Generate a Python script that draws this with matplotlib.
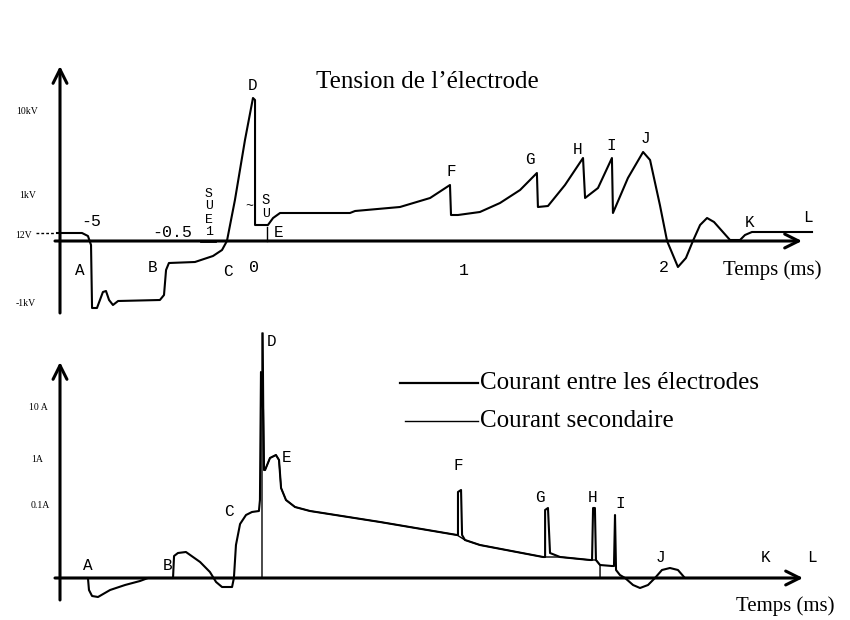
import matplotlib
matplotlib.use("Agg")
import matplotlib.pyplot as plt
from matplotlib.lines import Line2D

# ---------------- data (schematic units: t in ms-position, v = relative level) -------------
# Top panel : electrode voltage
volt_t = [-0.961, -0.839, -0.810, -0.795, -0.790, -0.766, -0.737, -0.722, -0.707, -0.688,
          -0.663, -0.459, -0.439, -0.429, -0.415, -0.288, -0.200, -0.156, -0.132, -0.093,
          -0.044, -0.005, 0.005, 0.005, 0.068, 0.093, 0.127, 0.468, 0.493, 0.712,
          0.859, 0.956, 0.961, 0.995, 1.102, 1.200, 1.298, 1.380, 1.385, 1.434,
          1.517, 1.605, 1.615, 1.678, 1.746, 1.751, 1.824, 1.898, 1.932, 1.980,
          2.015, 2.068, 2.107, 2.141, 2.176, 2.210, 2.244, 2.322, 2.371, 2.395,
          2.429, 2.722]
volt_v = [0.08, 0.08, 0.05, -0.04, -0.67, -0.67, -0.51, -0.50, -0.59, -0.64,
          -0.60, -0.59, -0.54, -0.29, -0.22, -0.21, -0.15, -0.09, 0.00, 0.41,
          1.01, 1.43, 1.41, 0.16, 0.16, 0.23, 0.28, 0.28, 0.30, 0.34,
          0.43, 0.56, 0.26, 0.26, 0.29, 0.38, 0.51, 0.68, 0.34, 0.35,
          0.56, 0.83, 0.43, 0.53, 0.83, 0.28, 0.63, 0.89, 0.81, 0.36,
          0.00, -0.26, -0.17, 0.00, 0.16, 0.23, 0.19, 0.01, 0.01, 0.06,
          0.09, 0.09]

# Bottom panel : current between electrodes
cur_t = [-0.961, -0.810, -0.805, -0.790, -0.761, -0.702, -0.629, -0.556, -0.517, -0.395,
         -0.390, -0.371, -0.332, -0.263, -0.215, -0.185, -0.156, -0.107, -0.098, -0.088,
         -0.068, -0.039, -0.010, 0.024, 0.029, 0.034, 0.044, 0.049, 0.054, 0.078,
         0.107, 0.122, 0.132, 0.156, 0.200, 0.273, 0.615, 0.990, 0.995, 0.995,
         1.010, 1.015, 1.029, 1.102, 1.410, 1.420, 1.420, 1.434, 1.444, 1.493,
         1.639, 1.649, 1.654, 1.663, 1.668, 1.688, 1.746, 1.756, 1.761, 1.766,
         1.785, 1.810, 1.849, 1.883, 1.922, 1.956, 1.990, 2.029, 2.068, 2.102,
         2.663]
cur_v = [0.00, 0.00, -0.12, -0.18, -0.19, -0.12, -0.07, -0.03, 0.00, 0.00,
         0.22, 0.25, 0.26, 0.16, 0.06, -0.04, -0.09, -0.09, 0.00, 0.33,
         0.54, 0.63, 0.66, 0.67, 0.78, 2.06, 1.68, 1.08, 1.08, 1.20,
         1.23, 1.18, 0.90, 0.78, 0.71, 0.67, 0.56, 0.43, 0.43, 0.86,
         0.88, 0.43, 0.38, 0.33, 0.21, 0.21, 0.68, 0.70, 0.25, 0.21,
         0.18, 0.18, 0.70, 0.70, 0.18, 0.13, 0.12, 0.12, 0.63, 0.08,
         0.03, 0.00, -0.07, -0.10, -0.07, 0.00, 0.08, 0.10, 0.08, 0.00,
         0.00]

# Bottom panel : secondary current
sec_t = [0.020, 0.039, 0.039, 0.044, 0.049, 0.054, 0.078, 0.107, 0.122, 0.132,
         0.156, 0.200, 0.273, 0.615, 0.990, 1.029, 1.102, 1.410, 1.493, 1.639,
         1.668, 1.688, 1.688]
sec_v = [0.00, 0.00, 2.45, 2.45, 1.08, 1.08, 1.20, 1.23, 1.18, 0.90,
         0.78, 0.71, 0.67, 0.56, 0.43, 0.38, 0.33, 0.21, 0.21, 0.18,
         0.18, 0.13, 0.00]

volt_ticks = ["10kV", "1kV", "12V", "-1kV"]
cur_ticks = ["10 A", "1A", "0.1A"]
time_ticks = ["-5", "-0.5", "0", "1", "2"]
volt_points = ["A", "B", "C", "D", "E", "F", "G", "H", "I", "J", "K", "L"]
cur_points = ["A", "B", "C", "D", "E", "F", "G", "H", "I", "J", "K", "L"]

# ---------------- layout helpers (pixel positions) ----------------
W, H = 850, 620
PX_PER_MS = 205.0
X0 = 254.0


def t_of(px):
    return (px - X0) / PX_PER_MS


fig = plt.figure(figsize=(8.5, 6.2), dpi=100)
fig.patch.set_facecolor("white")

ax1 = fig.add_axes([0, 290 / H, 1, 330 / H])
ax2 = fig.add_axes([0, 0, 1, 290 / H])
ax1.set_xlim(t_of(0), t_of(W))
ax2.set_xlim(t_of(0), t_of(W))
ax1.set_ylim((241 - 330) / 100, 241 / 100)
ax2.set_ylim((578 - 620) / 100, (578 - 330) / 100)
for ax in (ax1, ax2):
    ax.axis("off")

serif = "Liberation Serif"
mono = "Liberation Mono"


def ftext(x, y, s, **kw):
    fig.text(x / W, 1 - y / H, s, ha=kw.pop("ha", "center"), va=kw.pop("va", "center"), **kw)


# axes with arrows
arrow_kw = dict(arrowstyle="->,head_length=1.0,head_width=0.5", lw=2.2, color="black",
                shrinkA=0, shrinkB=0)
ax1.annotate("", xy=(t_of(802), 0), xytext=(t_of(55), 0), arrowprops=arrow_kw)
ax1.annotate("", xy=(t_of(60), (241 - 66) / 100), xytext=(t_of(60), (241 - 313) / 100),
             arrowprops=arrow_kw)
ax2.annotate("", xy=(t_of(803), 0), xytext=(t_of(55), 0), arrowprops=arrow_kw)
ax2.annotate("", xy=(t_of(60), (578 - 362) / 100), xytext=(t_of(60), (578 - 600) / 100),
             arrowprops=arrow_kw)

# curves
ax1.plot(volt_t, volt_v, color="black", lw=1.5, solid_joinstyle="round")
ax2.plot(sec_t, sec_v, color="black", lw=1.0)
ax2.plot(cur_t, cur_v, color="black", lw=1.5, solid_joinstyle="round")

# small marks in the top panel
ax1.plot([t_of(267), t_of(267)], [0.14, 0.0], color="black", lw=1.0)
ax1.plot([t_of(201), t_of(215)], [0.0, 0.0], color="black", lw=2.0)
ax1.plot([t_of(36), t_of(55)], [0.08, 0.08], color="black", lw=1.0, ls=(0, (2, 1.5)))

# title / axis titles
ftext(427, 82, "Tension de l’électrode", family=serif, fontsize=18)
ftext(772, 270, "Temps (ms)", family=serif, fontsize=15)
ftext(785, 606, "Temps (ms)", family=serif, fontsize=15)

# y tick labels
for s, (x, y) in zip(volt_ticks, [(27, 112), (28, 196), (24, 236), (26, 303)]):
    ftext(x, y, s, family=serif, fontsize=7)
for s, (x, y) in zip(cur_ticks, [(38, 407), (37, 460), (40, 505)]):
    ftext(x, y, s, family=serif, fontsize=7)

# time tick labels
for s, (x, y) in zip(time_ticks, [(91, 221), (172, 232), (254, 267), (464, 270), (664, 268)]):
    ftext(x, y, s, family=mono, fontsize=12)

# point letters top
top_pos = [(80, 271), (153, 268), (228, 272), (253, 85), (279, 233), (451, 172),
           (530, 160), (578, 150), (611, 146), (645, 138), (750, 222), (808, 217)]
for s, (x, y) in zip(volt_points, top_pos):
    ftext(x, y, s, family=mono, fontsize=11.5)

# stacked small letters near -0.5 / 0
for s, y in zip(["S", "U", "E", "1"], [194, 206, 220, 232]):
    ftext(209, y, s, family=mono, fontsize=9.5)
ftext(249, 206, "~", family=mono, fontsize=9.5)
ftext(266, 200, "S", family=mono, fontsize=10)
ftext(266, 214, "U", family=mono, fontsize=9.5)

# point letters bottom
bot_pos = [(88, 566), (168, 566), (229, 511), (272, 342), (287, 458), (458, 466),
           (540, 497), (593, 497), (620, 504), (660, 558), (766, 558), (812, 558)]
for s, (x, y) in zip(cur_points, bot_pos):
    ftext(x, y, s, family=mono, fontsize=11.5)

# legend
fig.add_artist(Line2D([400 / W, 478 / W], [1 - 383 / H, 1 - 383 / H], color="black", lw=1.6))
fig.add_artist(Line2D([405 / W, 478 / W], [1 - 421 / H, 1 - 421 / H], color="black", lw=1.0))
ftext(480, 383, "Courant entre les électrodes", family=serif, fontsize=18, ha="left")
ftext(480, 421, "Courant secondaire", family=serif, fontsize=18, ha="left")

fig.savefig("out.png", dpi=100, facecolor="white")
